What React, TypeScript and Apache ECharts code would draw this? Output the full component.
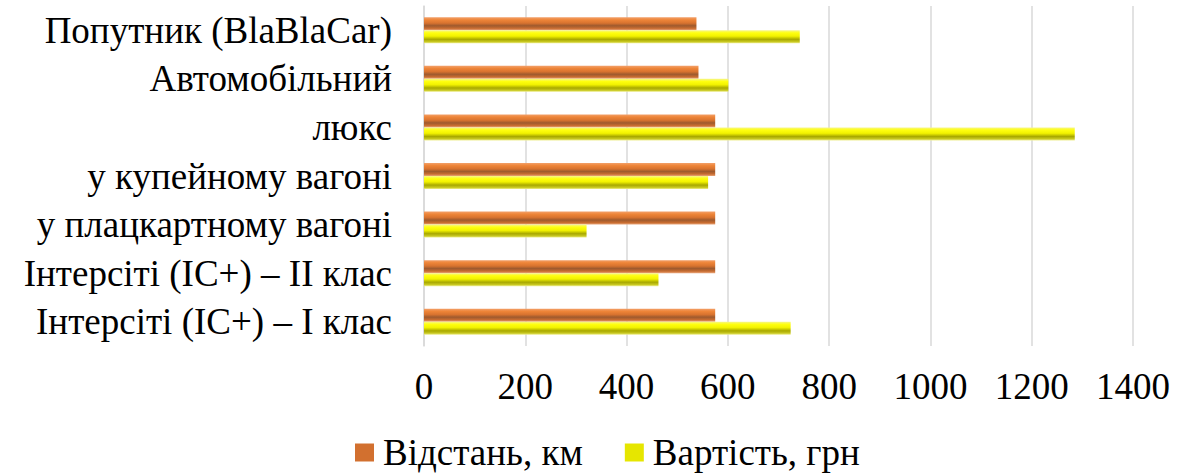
import React, { useEffect, useRef } from "react";
import * as echarts from "echarts";

const categories = [
  "Інтерсіті (IC+) – I клас",
  "Інтерсіті (IC+) – II клас",
  "у плацкартному вагоні",
  "у купейному вагоні",
  "люкс",
  "Автомобільний",
  "Попутник (BlaBlaCar)",
];
const distanceKm = [575, 575, 575, 575, 575, 542, 538];
const costUah = [724, 463, 321, 561, 1285, 601, 742];
const seriesNames = ["Відстань, км", "Вартість, грн"];
const xTicks = { min: 0, max: 1400, interval: 200 };

const FONT = "'Liberation Serif', 'Times New Roman', serif";

const orangeGrad = new echarts.graphic.LinearGradient(0, 0, 0, 1, [
  { offset: 0, color: "#F2A06A" },
  { offset: 0.2, color: "#EE8538" },
  { offset: 0.45, color: "#D8732F" },
  { offset: 0.65, color: "#9E5A2E" },
  { offset: 0.85, color: "#C86C30" },
  { offset: 1, color: "#E9A57A" },
]);
const yellowGrad = new echarts.graphic.LinearGradient(0, 0, 0, 1, [
  { offset: 0, color: "#F6F68A" },
  { offset: 0.2, color: "#FFFF10" },
  { offset: 0.45, color: "#F2F200" },
  { offset: 0.7, color: "#A8A800" },
  { offset: 0.88, color: "#C8C820" },
  { offset: 1, color: "#EEEE90" },
]);

export default function App() {
  const ref = useRef<HTMLDivElement>(null);
  useEffect(() => {
    if (!ref.current) return;
    const chart = echarts.init(ref.current, null, { renderer: "svg" });
    chart.setOption({
      animation: false,
      backgroundColor: "#ffffff",
      textStyle: { fontFamily: FONT },
      grid: { left: 424, right: 50, top: 6, bottom: 130, containLabel: false },
      legend: {
        bottom: 0,
        left: 350,
        itemWidth: 19,
        itemHeight: 18,
        itemGap: 42,
        icon: "rect",
        textStyle: { fontFamily: FONT, fontSize: 37, color: "#000", padding: [0, 0, 0, 4] },
        data: [
          {
            name: seriesNames[0],
            itemStyle: { color: "#D2702F" },
            textStyle: { fontFamily: FONT, fontSize: 37, color: "#000" },
          },
          {
            name: seriesNames[1],
            itemStyle: { color: "#E6E600" },
            textStyle: { fontFamily: FONT, fontSize: 37, color: "#000" },
          },
        ],
      },
      xAxis: {
        type: "value",
        min: xTicks.min,
        max: xTicks.max,
        interval: xTicks.interval,
        axisLine: { show: false },
        axisTick: { show: false },
        splitLine: { show: true, lineStyle: { color: "#D9D9D9", width: 1.5 } },
        axisLabel: {
          fontFamily: FONT,
          fontSize: 37,
          color: "#000",
          margin: 22,
          formatter: (v: number) => String(v),
        },
      },
      yAxis: {
        type: "category",
        data: categories,
        axisLine: { show: true, lineStyle: { color: "#D9D9D9", width: 1.5 } },
        axisTick: { show: false },
        axisLabel: { fontFamily: FONT, fontSize: 37, color: "#000", margin: 32, interval: 0 },
      },
      series: [
        {
          name: seriesNames[0],
          type: "bar",
          data: distanceKm,
          barWidth: 13,
          barGap: "0%",
          itemStyle: { color: orangeGrad },
        },
        {
          name: seriesNames[1],
          type: "bar",
          data: costUah,
          barWidth: 13,
          barGap: "0%",
          itemStyle: { color: yellowGrad },
        },
      ],
    });
    return () => chart.dispose();
  }, []);
  return (
    <div
      ref={ref}
      style={{ position: "absolute", left: 0, top: 0, width: 1183, height: 476 }}
    />
  );
}
